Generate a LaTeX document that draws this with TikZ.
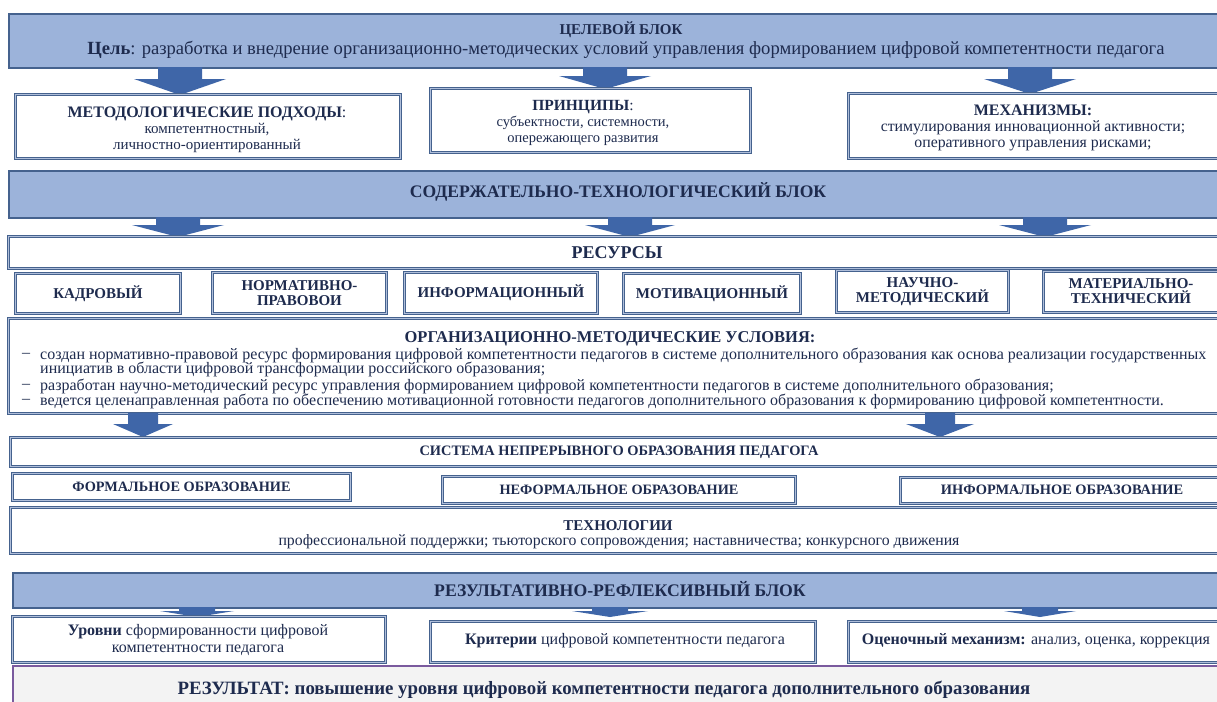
\documentclass[tikz,border=0pt]{standalone}
\usepackage{fontspec}
\setmainfont{Liberation Serif}
\definecolor{txt}{HTML}{1E2B4E}
\definecolor{blockfill}{HTML}{9CB3DA}
\definecolor{blockdraw}{HTML}{45628E}
\definecolor{arr}{HTML}{3F66A8}
\definecolor{dbl}{HTML}{AFBEDA}
\definecolor{resfill}{HTML}{F3F3F3}
\definecolor{resdraw}{HTML}{7A5A9E}
\newcommand\mkbox[6]{\node[#2, anchor=north west, minimum width={#5-#3}, minimum height={#6-#4}] (#1) at (#3,#4) {};}
% name, cx, ytop, ymid, ytip, half shaft, half head
\newcommand\blockarrow[7]{%
  \coordinate (#1) at (#2,#5);
  \fill[arr] ({#2-#6},#3) -- ({#2+#6},#3) -- ({#2+#6},#4) -- ({#2+#7},#4) -- (#1) -- ({#2-#7},#4) -- ({#2-#6},#4) -- cycle;}
\begin{document}
\begin{tikzpicture}[x=1pt,y=-1pt,
  every node/.style={text=txt, inner sep=0pt},
  block/.style={draw=blockdraw, line width=1.8pt, fill=blockfill},
  dbox/.style={draw=blockdraw, line width=0.9pt, double=dbl, double distance=1.4pt, fill=white},
  resbox/.style={draw=resdraw, line width=1.6pt, fill=resfill},
  fa/.style={font=\fontsize{#1}{#1}\selectfont},
  fb/.style={font=\fontsize{#1}{#1}\selectfont\bfseries},
  bl/.style={anchor=west, font=\fontsize{16}{16}\selectfont}]
\useasboundingbox (0,0) rectangle (1217,701);
\clip (0,0) rectangle (1217,701);
\fill[white] (0,0) rectangle (1217,701);

% ---- goal block
\mkbox{goal}{block}{8}{13}{1226}{67}
\node[fb=15] (goalT) at (621,30) {ЦЕЛЕВОЙ БЛОК};
\node[fa=18.6] (goalL) at (626,50) {\textbf{Цель}: разработка и внедрение организационно-методических условий управления формированием цифровой компетентности педагога};

\blockarrow{a1}{180}{67}{79}{95}{22}{46}
\blockarrow{a2}{605}{67}{76}{89}{22}{46}
\blockarrow{a3}{1030}{67}{79}{94}{22}{46}

\mkbox{b1}{dbox}{15}{94}{400}{158}
\node[fa=15, align=center] (b1t) at (207,130) {{\fontsize{16}{16}\selectfont\textbf{МЕТОДОЛОГИЧЕСКИЕ ПОДХОДЫ}:}\\[1pt] компетентностный,\\[1pt] личностно-ориентированный};
\mkbox{b2}{dbox}{430}{88}{750}{152}
\node[fa=14.5, align=center] (b2t) at (583,123) {{\fontsize{15.5}{15.5}\selectfont\textbf{ПРИНЦИПЫ}:}\\[1.5pt] субъектности, системности,\\[1.5pt] опережающего развития};
\mkbox{b3}{dbox}{848}{93}{1226}{158}
\node[fa=15.8, align=center] (b3t) at (1033,128) {{\fontsize{16}{16}\selectfont\textbf{МЕХАНИЗМЫ:}}\\[0.5pt] стимулирования инновационной активности;\\[0.5pt] оперативного управления рисками;};

% ---- content block
\mkbox{cont}{block}{8}{170}{1226}{217}
\node[fb=17.6] (contT) at (618,192) {СОДЕРЖАТЕЛЬНО-ТЕХНОЛОГИЧЕСКИЙ БЛОК};

\blockarrow{a4}{178}{217}{225}{237}{22}{46}
\blockarrow{a5}{630}{217}{225}{237}{22}{45}
\blockarrow{a6}{1045}{217}{225}{237}{22}{46}

\mkbox{res}{dbox}{8}{236}{1226}{268}
\node[fb=18] (resT) at (617,253) {РЕСУРСЫ};

\mkbox{r1}{dbox}{15}{273}{180}{313}
\node[fb=15] at (r1) {КАДРОВЫЙ};
\mkbox{r2}{dbox}{212}{272}{386}{313}
\node[fb=15, align=center] at (r2) {НОРМАТИВНО-\\ПРАВОВОИ};
\mkbox{r3}{dbox}{404}{272}{597}{313}
\node[fb=15] at (r3) {ИНФОРМАЦИОННЫЙ};
\mkbox{r4}{dbox}{623}{273}{800}{313}
\node[fb=15] at (r4) {МОТИВАЦИОННЫЙ};
\mkbox{r5}{dbox}{836}{270}{1008}{312}
\node[fb=15, align=center] at (r5) {НАУЧНО-\\МЕТОДИЧЕСКИЙ};
\mkbox{r6}{dbox}{1043}{271}{1226}{312}
\node[fb=15, align=center] at (1131,291) {МАТЕРИАЛЬНО-\\ТЕХНИЧЕСКИЙ};

% ---- conditions
\mkbox{omu}{dbox}{8}{318}{1226}{413}
\node[fb=16.5] (omuT) at (610,339) {ОРГАНИЗАЦИОННО-МЕТОДИЧЕСКИЕ УСЛОВИЯ:};
\node[bl] (d1) at (22,355) {–};
\node[bl] (l1) at (40,355) {создан нормативно-правовой ресурс формирования цифровой компетентности педагогов в системе дополнительного образования как основа реализации государственных};
\node[bl] (l2) at (40,369) {инициатив в области цифровой трансформации российского образования;};
\node[bl] (d3) at (22,386) {–};
\node[bl] (l3) at (40,386) {разработан научно-методический ресурс управления формированием цифровой компетентности педагогов в системе дополнительного образования;};
\node[bl] (d4) at (22,401) {–};
\node[bl] (l4) at (40,401) {ведется целенаправленная работа по обеспечению мотивационной готовности педагогов дополнительного образования к формированию цифровой компетентности.};

\blockarrow{a7}{143}{413}{424}{437}{15}{30}
\blockarrow{a8}{940}{413}{424}{437}{15}{34}

% ---- system
\mkbox{sys}{dbox}{10}{437}{1226}{466}
\node[fb=14.4] (sysT) at (619,452) {СИСТЕМА НЕПРЕРЫВНОГО ОБРАЗОВАНИЯ ПЕДАГОГА};
\mkbox{e1}{dbox}{12}{473}{350}{500}
\node[fb=14.3] at (e1) {ФОРМАЛЬНОЕ ОБРАЗОВАНИЕ};
\mkbox{e2}{dbox}{442}{476}{795}{503}
\node[fb=14.3] at (e2) {НЕФОРМАЛЬНОЕ ОБРАЗОВАНИЕ};
\mkbox{e3}{dbox}{900}{477}{1226}{503}
\node[fb=14.4] at (1062,490) {ИНФОРМАЛЬНОЕ ОБРАЗОВАНИЕ};

\mkbox{tech}{dbox}{10}{507}{1226}{553}
\node[fb=15] (techT) at (618,526) {ТЕХНОЛОГИИ};
\node[fa=15.8] (techL) at (619,542) {профессиональной поддержки; тьюторского сопровождения; наставничества; конкурсного движения};

% ---- result block
\mkbox{rb}{block}{12}{572}{1226}{607}
\node[fb=17.7] (rbT) at (620,589) {РЕЗУЛЬТАТИВНО-РЕФЛЕКСИВНЫЙ БЛОК};

\blockarrow{a9}{197}{607}{611}{617}{18}{37}
\blockarrow{a10}{610}{607}{611}{617}{18}{38}
\blockarrow{a11}{1040}{607}{611}{617}{18}{36}

\mkbox{c1}{dbox}{12}{616}{385}{662}
\node[fa=16, align=center] at (198,640) {\textbf{Уровни} сформированности цифровой\\[1pt] компетентности педагога};
\mkbox{c2}{dbox}{430}{621}{815}{662}
\node[fa=16] at (625,641) {\textbf{Критерии} цифровой компетентности педагога};
\mkbox{c3}{dbox}{848}{621}{1226}{662}
\node[fa=16] at (1036,641) {\textbf{Оценочный механизм:} анализ, оценка, коррекция};

\mkbox{fin}{resbox}{12}{665}{1226}{712}
\node[fb=18.8] (finT) at (604,690) {РЕЗУЛЬТАТ: повышение уровня цифровой компетентности педагога дополнительного образования};
\end{tikzpicture}
\end{document}
